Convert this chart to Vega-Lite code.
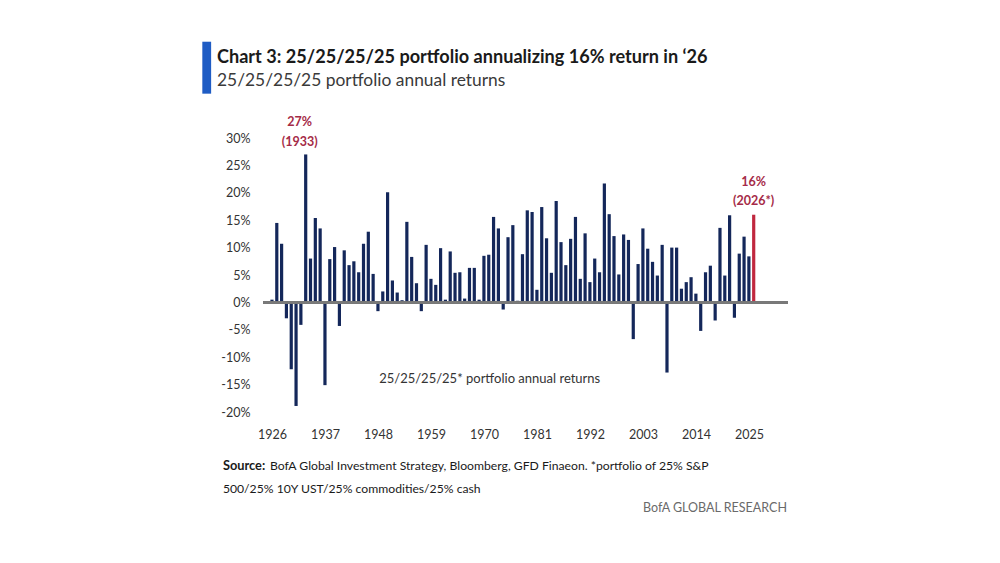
{
  "$schema": "https://vega.github.io/schema/vega-lite/v6.json",
  "width": 524,
  "height": 274,
  "autosize": {"type": "none"},
  "padding": {"left": 263.6, "top": 138, "right": 212.4, "bottom": 151},
  "background": "white",
  "title": {
    "text": "Chart 3: 25/25/25/25 portfolio annualizing 16% return in ‘26",
    "subtitle": "25/25/25/25 portfolio annual returns",
    "anchor": "start",
    "frame": "group",
    "orient": "top",
    "offset": 0,
    "dx": -46.6,
    "dy": 48,
    "font": "Lato",
    "fontSize": 18.1,
    "fontWeight": "bold",
    "color": "#1a1a1a",
    "subtitleFont": "Lato",
    "subtitleFontSize": 17.4,
    "subtitleColor": "#3a3a3a",
    "subtitlePadding": 5
  },
  "config": {"view": {"stroke": null}},
  "data": {
    "values": [
      {"year": 1926, "ret": 0.5, "kind": "hist"},
      {"year": 1927, "ret": 14.5, "kind": "hist"},
      {"year": 1928, "ret": 10.7, "kind": "hist"},
      {"year": 1929, "ret": -2.9, "kind": "hist"},
      {"year": 1930, "ret": -12.2, "kind": "hist"},
      {"year": 1931, "ret": -18.9, "kind": "hist"},
      {"year": 1932, "ret": -4.1, "kind": "hist"},
      {"year": 1933, "ret": 27, "kind": "hist", "pct": "27%", "tag": "(1933)"},
      {"year": 1934, "ret": 8.0, "kind": "hist"},
      {"year": 1935, "ret": 15.4, "kind": "hist"},
      {"year": 1936, "ret": 13.5, "kind": "hist"},
      {"year": 1937, "ret": -15.1, "kind": "hist"},
      {"year": 1938, "ret": 7.9, "kind": "hist"},
      {"year": 1939, "ret": 10.1, "kind": "hist"},
      {"year": 1940, "ret": -4.3, "kind": "hist"},
      {"year": 1941, "ret": 9.5, "kind": "hist"},
      {"year": 1942, "ret": 6.8, "kind": "hist"},
      {"year": 1943, "ret": 7.5, "kind": "hist"},
      {"year": 1944, "ret": 5.5, "kind": "hist"},
      {"year": 1945, "ret": 10.7, "kind": "hist"},
      {"year": 1946, "ret": 12.9, "kind": "hist"},
      {"year": 1947, "ret": 5.2, "kind": "hist"},
      {"year": 1948, "ret": -1.6, "kind": "hist"},
      {"year": 1949, "ret": 2.0, "kind": "hist"},
      {"year": 1950, "ret": 20.1, "kind": "hist"},
      {"year": 1951, "ret": 4.0, "kind": "hist"},
      {"year": 1952, "ret": 1.8, "kind": "hist"},
      {"year": 1953, "ret": 0.4, "kind": "hist"},
      {"year": 1954, "ret": 14.7, "kind": "hist"},
      {"year": 1955, "ret": 8.3, "kind": "hist"},
      {"year": 1956, "ret": 3.5, "kind": "hist"},
      {"year": 1957, "ret": -1.6, "kind": "hist"},
      {"year": 1958, "ret": 10.5, "kind": "hist"},
      {"year": 1959, "ret": 4.3, "kind": "hist"},
      {"year": 1960, "ret": 3.2, "kind": "hist"},
      {"year": 1961, "ret": 9.9, "kind": "hist"},
      {"year": 1962, "ret": 0.5, "kind": "hist"},
      {"year": 1963, "ret": 9.3, "kind": "hist"},
      {"year": 1964, "ret": 5.4, "kind": "hist"},
      {"year": 1965, "ret": 5.5, "kind": "hist"},
      {"year": 1966, "ret": 0.7, "kind": "hist"},
      {"year": 1967, "ret": 6.3, "kind": "hist"},
      {"year": 1968, "ret": 6.3, "kind": "hist"},
      {"year": 1969, "ret": 0.5, "kind": "hist"},
      {"year": 1970, "ret": 8.5, "kind": "hist"},
      {"year": 1971, "ret": 8.7, "kind": "hist"},
      {"year": 1972, "ret": 15.6, "kind": "hist"},
      {"year": 1973, "ret": 13.5, "kind": "hist"},
      {"year": 1974, "ret": -1.3, "kind": "hist"},
      {"year": 1975, "ret": 11.9, "kind": "hist"},
      {"year": 1976, "ret": 14.1, "kind": "hist"},
      {"year": 1977, "ret": 0.3, "kind": "hist"},
      {"year": 1978, "ret": 8.8, "kind": "hist"},
      {"year": 1979, "ret": 16.8, "kind": "hist"},
      {"year": 1980, "ret": 16.5, "kind": "hist"},
      {"year": 1981, "ret": 2.3, "kind": "hist"},
      {"year": 1982, "ret": 17.4, "kind": "hist"},
      {"year": 1983, "ret": 11.7, "kind": "hist"},
      {"year": 1984, "ret": 5.4, "kind": "hist"},
      {"year": 1985, "ret": 18.5, "kind": "hist"},
      {"year": 1986, "ret": 11.0, "kind": "hist"},
      {"year": 1987, "ret": 6.8, "kind": "hist"},
      {"year": 1988, "ret": 11.6, "kind": "hist"},
      {"year": 1989, "ret": 15.6, "kind": "hist"},
      {"year": 1990, "ret": 4.3, "kind": "hist"},
      {"year": 1991, "ret": 12.6, "kind": "hist"},
      {"year": 1992, "ret": 3.7, "kind": "hist"},
      {"year": 1993, "ret": 8.0, "kind": "hist"},
      {"year": 1994, "ret": 5.5, "kind": "hist"},
      {"year": 1995, "ret": 21.7, "kind": "hist"},
      {"year": 1996, "ret": 16.1, "kind": "hist"},
      {"year": 1997, "ret": 12.1, "kind": "hist"},
      {"year": 1998, "ret": 5.1, "kind": "hist"},
      {"year": 1999, "ret": 12.4, "kind": "hist"},
      {"year": 2000, "ret": 11.4, "kind": "hist"},
      {"year": 2001, "ret": -6.7, "kind": "hist"},
      {"year": 2002, "ret": 7.0, "kind": "hist"},
      {"year": 2003, "ret": 13.5, "kind": "hist"},
      {"year": 2004, "ret": 9.8, "kind": "hist"},
      {"year": 2005, "ret": 7.4, "kind": "hist"},
      {"year": 2006, "ret": 4.9, "kind": "hist"},
      {"year": 2007, "ret": 10.5, "kind": "hist"},
      {"year": 2008, "ret": -12.8, "kind": "hist"},
      {"year": 2009, "ret": 10.0, "kind": "hist"},
      {"year": 2010, "ret": 10.0, "kind": "hist"},
      {"year": 2011, "ret": 2.5, "kind": "hist"},
      {"year": 2012, "ret": 3.7, "kind": "hist"},
      {"year": 2013, "ret": 4.6, "kind": "hist"},
      {"year": 2014, "ret": 1.6, "kind": "hist"},
      {"year": 2015, "ret": -5.2, "kind": "hist"},
      {"year": 2016, "ret": 5.5, "kind": "hist"},
      {"year": 2017, "ret": 6.7, "kind": "hist"},
      {"year": 2018, "ret": -3.3, "kind": "hist"},
      {"year": 2019, "ret": 13.6, "kind": "hist"},
      {"year": 2020, "ret": 4.9, "kind": "hist"},
      {"year": 2021, "ret": 15.9, "kind": "hist"},
      {"year": 2022, "ret": -2.8, "kind": "hist"},
      {"year": 2023, "ret": 8.9, "kind": "hist"},
      {"year": 2024, "ret": 12.0, "kind": "hist"},
      {"year": 2025, "ret": 8.4, "kind": "hist"},
      {"year": 2026, "ret": 16, "kind": "est", "pct": "16%", "tag": "(2026*)"}
    ]
  },
  "layer": [
    {
      "mark": {"type": "bar", "width": 3.2},
      "encoding": {
        "x": {
          "field": "year",
          "type": "quantitative",
          "scale": {"domain": [1925.3, 2032], "nice": false, "zero": false},
          "axis": {
            "values": [1926, 1937, 1948, 1959, 1970, 1981, 1992, 2003, 2014, 2025],
            "format": "d",
            "title": null,
            "grid": false,
            "ticks": false,
            "domain": false,
            "labelOverlap": false,
            "labelFont": "Lato",
            "labelFontSize": 12.5,
            "labelColor": "#333333",
            "labelPadding": 16
          }
        },
        "y": {
          "field": "ret",
          "type": "quantitative",
          "scale": {"domain": [-20, 30], "nice": false, "zero": false},
          "axis": {
            "values": [-20, -15, -10, -5, 0, 5, 10, 15, 20, 25, 30],
            "tickCount": 11,
            "labelExpr": "datum.value + '%'",
            "title": null,
            "grid": false,
            "ticks": false,
            "domain": false,
            "labelOverlap": false,
            "labelFont": "Lato",
            "labelFontSize": 12.5,
            "labelColor": "#333333",
            "labelPadding": 13.6
          }
        },
        "color": {
          "field": "kind",
          "type": "nominal",
          "scale": {"domain": ["hist", "est"], "range": ["#14275a", "#c0283f"]},
          "legend": null
        }
      }
    },
    {
      "mark": {"type": "rule", "color": "#7a7a7a", "strokeWidth": 1.5},
      "encoding": {"y": {"datum": 0, "type": "quantitative"}}
    },
    {
      "data": {"values": [{"section": "title"}]},
      "mark": {"type": "rect", "color": "#1f5cc4", "clip": false},
      "encoding": {
        "x": {"datum": 1911.54, "type": "quantitative"},
        "x2": {"datum": 1913.37},
        "y": {"datum": 47.57, "type": "quantitative"},
        "y2": {"datum": 38.09}
      }
    },
    {
      "transform": [{"filter": "datum.year == 1933"}],
      "mark": {"type": "text", "font": "Lato", "fontSize": 12.5, "fontWeight": "bold", "color": "#a52b47", "baseline": "middle", "align": "center", "dx": -6, "dy": -32, "clip": false},
      "encoding": {"x": {"field": "year", "type": "quantitative"}, "y": {"field": "ret", "type": "quantitative"}, "text": {"field": "pct"}}
    },
    {
      "transform": [{"filter": "datum.year == 1933"}],
      "mark": {"type": "text", "font": "Lato", "fontSize": 12.5, "fontWeight": "bold", "color": "#a52b47", "baseline": "middle", "align": "center", "dx": -6, "dy": -12.5, "clip": false},
      "encoding": {"x": {"field": "year", "type": "quantitative"}, "y": {"field": "ret", "type": "quantitative"}, "text": {"field": "tag"}}
    },
    {
      "transform": [{"filter": "datum.year == 2026"}],
      "mark": {"type": "text", "font": "Lato", "fontSize": 12.5, "fontWeight": "bold", "color": "#a52b47", "baseline": "middle", "align": "center", "dy": -32.5, "clip": false},
      "encoding": {"x": {"field": "year", "type": "quantitative"}, "y": {"field": "ret", "type": "quantitative"}, "text": {"field": "pct"}}
    },
    {
      "transform": [{"filter": "datum.year == 2026"}],
      "mark": {"type": "text", "font": "Lato", "fontSize": 12.5, "fontWeight": "bold", "color": "#a52b47", "baseline": "middle", "align": "center", "dy": -13.5, "clip": false},
      "encoding": {"x": {"field": "year", "type": "quantitative"}, "y": {"field": "ret", "type": "quantitative"}, "text": {"field": "tag"}}
    },
    {
      "data": {"values": [{"label": "25/25/25/25* portfolio annual returns"}]},
      "mark": {"type": "text", "font": "Lato", "fontSize": 13, "color": "#333333", "align": "center", "baseline": "middle"},
      "encoding": {
        "x": {"datum": 1971.2, "type": "quantitative"},
        "y": {"datum": -13.9, "type": "quantitative"},
        "text": {"field": "label"}
      }
    },
    {
      "data": {"values": [{"label": "Source:"}]},
      "mark": {"type": "text", "font": "Lato", "fontSize": 12.8, "fontWeight": "bold", "color": "#1a1a1a", "align": "left", "baseline": "middle", "clip": false},
      "encoding": {
        "x": {"datum": 1915.81, "type": "quantitative"},
        "y": {"datum": -29.8, "type": "quantitative"},
        "text": {"field": "label"}
      }
    },
    {
      "data": {"values": [{"label": "BofA Global Investment Strategy, Bloomberg, GFD Finaeon. *portfolio of 25% S&P"}]},
      "mark": {"type": "text", "font": "Lato", "fontSize": 12.2, "color": "#1a1a1a", "align": "left", "baseline": "middle", "clip": false},
      "encoding": {
        "x": {"datum": 1925.6, "type": "quantitative"},
        "y": {"datum": -29.8, "type": "quantitative"},
        "text": {"field": "label"}
      }
    },
    {
      "data": {"values": [{"label": "500/25% 10Y UST/25% commodities/25% cash"}]},
      "mark": {"type": "text", "font": "Lato", "fontSize": 12.2, "color": "#1a1a1a", "align": "left", "baseline": "middle", "clip": false},
      "encoding": {
        "x": {"datum": 1915.81, "type": "quantitative"},
        "y": {"datum": -34.0, "type": "quantitative"},
        "text": {"field": "label"}
      }
    },
    {
      "data": {"values": [{"label": "BofA GLOBAL RESEARCH"}]},
      "mark": {"type": "text", "font": "Lato", "fontSize": 12.5, "color": "#6a6a6a", "align": "right", "baseline": "middle", "clip": false},
      "encoding": {
        "x": {"datum": 2032.9, "type": "quantitative"},
        "y": {"datum": -37.46, "type": "quantitative"},
        "text": {"field": "label"}
      }
    }
  ]
}
